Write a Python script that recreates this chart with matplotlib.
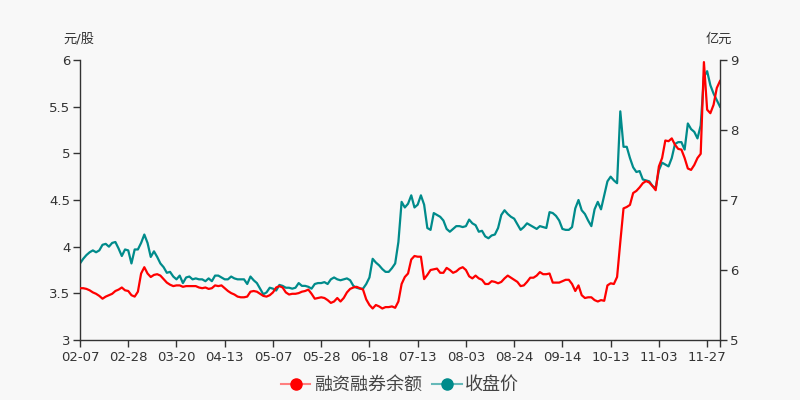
import matplotlib.pyplot as plt
from matplotlib.lines import Line2D

plt.rcParams["font.family"] = ["DejaVu Sans", "Noto Sans CJK SC"]

# 2020 trading days, a label every 15 days
tick_labels = ["02-07", "02-28", "03-20", "04-13", "05-07", "05-28", "06-18",
               "07-13", "08-03", "08-24", "09-14", "10-13", "11-03", "11-27"]

# 收盘价 (元/股), left axis
close_price = [
    3.82, 3.87, 3.91, 3.94, 3.96, 3.94, 3.96, 4.02, 4.03, 4.00,
    4.04, 4.05, 3.98, 3.90, 3.97, 3.96, 3.82, 3.97, 3.97, 4.04,
    4.13, 4.04, 3.89, 3.95, 3.89, 3.82, 3.78, 3.72, 3.73, 3.68,
    3.65, 3.69, 3.61, 3.67, 3.68, 3.65, 3.66, 3.65, 3.65, 3.63,
    3.66, 3.63, 3.69, 3.69, 3.67, 3.65, 3.65, 3.68, 3.66, 3.65,
    3.65, 3.65, 3.60, 3.68, 3.64, 3.61, 3.55, 3.49, 3.51, 3.56,
    3.55, 3.53, 3.59, 3.58, 3.56, 3.56, 3.55, 3.56, 3.61, 3.58,
    3.58, 3.57, 3.55, 3.60, 3.61, 3.61, 3.62, 3.60, 3.65, 3.67,
    3.65, 3.64, 3.65, 3.66, 3.64, 3.58, 3.56, 3.55, 3.55, 3.60,
    3.67, 3.87, 3.83, 3.80, 3.76, 3.73, 3.73, 3.77, 3.82, 4.05,
    4.48, 4.42, 4.46, 4.55, 4.42, 4.45, 4.55, 4.45, 4.20, 4.18,
    4.36, 4.34, 4.32, 4.28, 4.19, 4.16, 4.19, 4.22, 4.22, 4.21,
    4.22, 4.29, 4.25, 4.23, 4.16, 4.17, 4.11, 4.09, 4.12, 4.13,
    4.20, 4.34, 4.39, 4.35, 4.32, 4.30, 4.24, 4.18, 4.21, 4.25,
    4.23, 4.21, 4.19, 4.22, 4.21, 4.20, 4.37, 4.36, 4.33, 4.28,
    4.19, 4.18, 4.18, 4.21, 4.41, 4.50, 4.39, 4.35, 4.28, 4.22,
    4.40, 4.48, 4.40, 4.55, 4.70, 4.75, 4.71, 4.68, 5.45, 5.07,
    5.07, 4.95, 4.85, 4.80, 4.81, 4.72, 4.71, 4.70, 4.65, 4.63,
    4.82, 4.90, 4.88, 4.86, 4.95, 5.10, 5.12, 5.12, 5.04, 5.32,
    5.26, 5.23, 5.16, 5.30, 5.82, 5.88, 5.73, 5.64, 5.57, 5.50,
]

# 融资融券余额 (亿元), right axis
margin_balance = [
    5.74, 5.74, 5.73, 5.71, 5.68, 5.66, 5.63, 5.59, 5.62, 5.64,
    5.66, 5.70, 5.72, 5.75, 5.71, 5.70, 5.64, 5.62, 5.69, 5.95,
    6.04, 5.95, 5.90, 5.93, 5.94, 5.92, 5.87, 5.82, 5.79, 5.77,
    5.78, 5.78, 5.76, 5.77, 5.77, 5.77, 5.77, 5.75, 5.74, 5.75,
    5.73, 5.74, 5.78, 5.77, 5.78, 5.74, 5.70, 5.67, 5.65, 5.62,
    5.61, 5.61, 5.62, 5.69, 5.70, 5.69, 5.66, 5.63, 5.62, 5.64,
    5.68, 5.75, 5.77, 5.75, 5.68, 5.65, 5.66, 5.66, 5.67, 5.69,
    5.70, 5.72, 5.66, 5.59, 5.60, 5.61, 5.60, 5.57, 5.53, 5.55,
    5.60, 5.55, 5.60, 5.68, 5.73, 5.75, 5.76, 5.74, 5.72, 5.58,
    5.50, 5.45, 5.50, 5.48, 5.45, 5.47, 5.47, 5.48, 5.46, 5.55,
    5.80, 5.90, 5.95, 6.15, 6.20, 6.19, 6.19, 5.87, 5.93, 6.00,
    6.01, 6.02, 5.96, 5.96, 6.03, 6.00, 5.96, 5.98, 6.02, 6.04,
    6.00, 5.91, 5.88, 5.92, 5.88, 5.86, 5.80, 5.80, 5.84, 5.83,
    5.81, 5.83, 5.88, 5.92, 5.89, 5.86, 5.83, 5.77, 5.78, 5.83,
    5.89, 5.89, 5.92, 5.97, 5.94, 5.94, 5.95, 5.82, 5.82, 5.82,
    5.84, 5.86, 5.86, 5.80, 5.70, 5.78, 5.64, 5.60, 5.61, 5.61,
    5.57, 5.55, 5.57, 5.56, 5.78, 5.81, 5.80, 5.90, 6.40, 6.88,
    6.90, 6.93, 7.10, 7.13, 7.18, 7.24, 7.27, 7.25, 7.20, 7.14,
    7.48, 7.60, 7.85, 7.84, 7.88, 7.79, 7.73, 7.72, 7.60, 7.45,
    7.43, 7.50, 7.60, 7.66, 8.97, 8.29, 8.24, 8.36, 8.60, 8.70,
]

red = "#ff0000"
teal = "#008b8b"
axis_color = "#333333"
bg = "#f8f8f8"

x = list(range(len(close_price)))

fig = plt.figure(figsize=(8, 4), dpi=100, facecolor=bg)
ax1 = fig.add_axes([0.1, 0.15, 0.8, 0.7])
ax1.set_facecolor(bg)
ax2 = ax1.twinx()

ax1.plot(x, close_price, color=teal, linewidth=1.6)
ax2.plot(range(len(margin_balance)), margin_balance, color=red, linewidth=1.6)

ax1.set_xlim(0, len(x) - 1)
ax1.set_ylim(3, 6)
ax2.set_ylim(5, 9)
ax1.set_yticks([3, 3.5, 4, 4.5, 5, 5.5, 6])
ax1.set_yticklabels(["3", "3.5", "4", "4.5", "5", "5.5", "6"])
ax2.set_yticks([5, 6, 7, 8, 9])

tick_pos = [i * 15 for i in range(len(tick_labels))]
ax1.set_xticks(tick_pos)
ax1.set_xticklabels(tick_labels)
ax1.set_xticks([len(x) - 1], minor=True)

for ax in (ax1, ax2):
    ax.spines["top"].set_visible(False)
    for side in ("left", "right", "bottom"):
        ax.spines[side].set_color(axis_color)
        ax.spines[side].set_linewidth(1)
    ax.tick_params(axis="both", which="both", colors=axis_color, labelsize=9.5,
                   length=5, width=1, direction="out")
ax1.spines["right"].set_visible(False)
ax2.spines["left"].set_visible(False)
ax2.spines["bottom"].set_visible(False)
ax1.tick_params(axis="x", pad=3)
ax1.tick_params(axis="y", pad=2)
ax2.tick_params(axis="y", pad=2)

fig.text(0.099, 0.902, "元/股", ha="center", va="center", fontsize=9.5, color=axis_color)
fig.text(0.899, 0.902, "亿元", ha="center", va="center", fontsize=9.5, color=axis_color)

handles = [
    Line2D([0], [0], color="#ff7f7f", linewidth=1.5, marker="o", markersize=8,
           markerfacecolor=red, markeredgecolor=red),
    Line2D([0], [0], color="#66b9b9", linewidth=1.5, marker="o", markersize=8,
           markerfacecolor=teal, markeredgecolor=teal),
]
fig.legend(handles, ["融资融券余额", "收盘价"], loc="center", bbox_to_anchor=(0.5, 0.037),
           ncol=2, frameon=False, fontsize=13, handlelength=1.65, columnspacing=0.55,
           handletextpad=0.2, labelcolor="#444444")

fig.savefig("out.png", dpi=100, facecolor=bg)
